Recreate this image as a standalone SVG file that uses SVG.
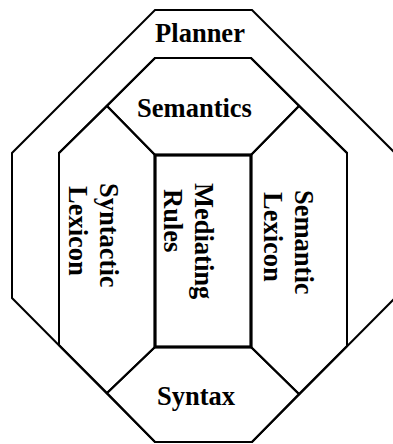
<svg xmlns="http://www.w3.org/2000/svg" width="393" height="444" viewBox="0 0 393 444">
  <style>
    .region { fill: none; stroke: #000; stroke-width: 2; stroke-linejoin: miter; }
    .box { fill: none; stroke: #000; stroke-width: 3.2; }
    .label { font-family: "Liberation Serif", "Times New Roman", serif; font-weight: bold; font-size: 26.5px; fill: #000; }
    .mid { text-anchor: middle; }
  </style>
  <rect width="393" height="444" fill="#fff"/>

  <!-- outer ring -->
  <g id="planner">
    <path class="region" d="M155,10 H252 L395,153 V298 L252,442 H155 L12,298 V153 Z"/>
    <path class="region" d="M59,345 V153 L155,58 H251 L347,153 V346"/>
    <text class="label mid" x="200" y="41.5">Planner</text>
  </g>

  <g id="semantics">
    <path class="region" d="M155,58 H251 L299,106 L251,155 H155 L107,106 Z"/>
    <text class="label mid" x="194.5" y="117">Semantics</text>
  </g>

  <g id="syntactic-lexicon">
    <path class="region" d="M59,153 L107,106 L155,155 V347 L107,393 L59,345 Z"/>
    <text class="label" transform="translate(99.5,183) rotate(90)">Syntactic</text>
    <text class="label" transform="translate(68.5,186) rotate(90)">Lexicon</text>
  </g>

  <g id="semantic-lexicon">
    <path class="region" d="M251,155 L299,106 L347,153 V346 L299,394 L251,347 Z"/>
    <text class="label" transform="translate(294.5,190) rotate(90)">Semantic</text>
    <text class="label" transform="translate(263.5,192) rotate(90)">Lexicon</text>
  </g>

  <g id="syntax">
    <path class="region" d="M155,347 H251 L299,394 L252,442 H155 L107,393 Z"/>
    <text class="label mid" x="196" y="405">Syntax</text>
  </g>

  <g id="mediating-rules">
    <rect class="box" x="155" y="155" width="96" height="192"/>
    <text class="label" transform="translate(194.5,183) rotate(90)">Mediating</text>
    <text class="label" transform="translate(163.5,189) rotate(90)">Rules</text>
  </g>

  <!-- regions share their borders; there are no separate connectors -->
  <g id="connectors"/>
</svg>
